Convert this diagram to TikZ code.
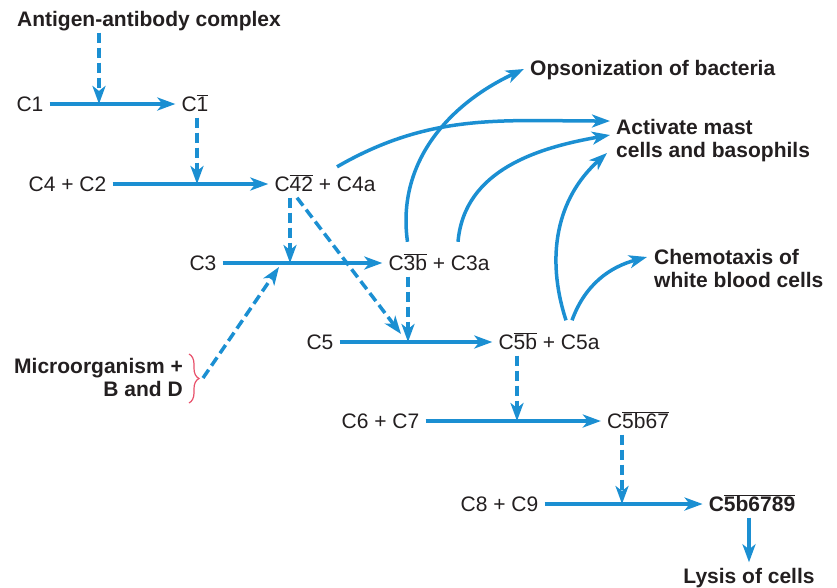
\documentclass[tikz,border=0pt]{standalone}
\usepackage{fontspec}
\setmainfont{Liberation Sans}
\usetikzlibrary{arrows.meta,decorations.pathreplacing}
\definecolor{cblue}{HTML}{1b8fd2}
\definecolor{bracered}{HTML}{e8506a}
\definecolor{ink}{HTML}{231f20}
\newcommand{\ovr}[1]{$\overline{\hbox{#1}}$}

\begin{document}
\begin{tikzpicture}[x=1pt,y=-1pt,
  cpd/.style={inner xsep=6pt, inner ysep=6pt, text height=15pt, text depth=0pt,
              font=\fontsize{21}{23}\selectfont, text=ink},
  bcpd/.style={cpd, font=\fontsize{21}{23}\selectfont\bfseries},
  lbl/.style={inner sep=0pt, align=left, font=\fontsize{21}{23}\selectfont\bfseries, text=ink},
  arr/.style={-{Stealth[length=18pt,width=13pt,inset=5pt]}, line width=3.5pt, color=cblue},
  darr/.style={arr, dash pattern=on 10pt off 5pt},
]
  \useasboundingbox (0,0) rectangle (837,587);
  % cascade
  \node[bcpd](ag) at (149,19) {Antigen-antibody complex};
  \node[cpd](c1) at (30,104) {C1}; \node[cpd](c1b) at (195,104) {C\ovr{1}};
  \node[cpd](c4c2) at (67.5,184) {C4 + C2}; \node[cpd](c42) at (325,184) {C\ovr{42} + C4a};
  \node[cpd](c3) at (203,263) {C3}; \node[cpd](c3b) at (439,263) {C\ovr{3b} + C3a};
  \node[cpd](c5) at (320,342) {C5}; \node[cpd](c5b) at (549,342) {C\ovr{5b} + C5a};
  \node[cpd](c6c7) at (380.5,421) {C6 + C7}; \node[cpd](c5b67) at (638,421) {C\ovr{5b67}};
  \node[cpd](c8c9) at (499.5,504) {C8 + C9}; \node[bcpd](mac) at (752,504) {C\ovr{5b6789}};
  \node[bcpd](lys) at (749,576) {Lysis of cells};
  \node[lbl,align=right,anchor=base east](mo) at (183,396.5) {Microorganism +\\B and D};
  % outcomes
  \node[lbl,anchor=base west](ops) at (530,75.5) {Opsonization of bacteria};
  \node[lbl,anchor=base west](act) at (616,157.5) {Activate mast\\cells and basophils};
  \node[lbl,anchor=base west](chem) at (654,287.5) {Chemotaxis of\\white blood cells};
  % join points
  \coordinate (j1) at (99,104); \coordinate (j2) at (197,184);
  \coordinate (j3) at (290,263); \coordinate (j4) at (401,334);
  \coordinate (j5) at (408,342); \coordinate (j6) at (517,421);
  \coordinate (j7) at (622,504); \coordinate (j8) at (279,267);
  \coordinate (bt) at (203,378);
  \draw[arr](c1)--(c1b); \draw[arr](c4c2)--(c42); \draw[arr](c3)--(c3b);
  \draw[arr](c5)--(c5b); \draw[arr](c6c7)--(c5b67); \draw[arr](c8c9)--(mac);
  \draw[arr](lys |- mac.south)--(lys.north);
  \draw[darr](ag.south -| j1)--(j1); \draw[darr](c1b.south -| j2)--(j2);
  \draw[darr](c42.south -| j3)--(j3); \draw[darr]([xshift=-28pt]c42.south)--(j4);
  \draw[darr](c3b.south -| j5)--(j5); \draw[darr](c5b.south -| j6)--(j6);
  \draw[darr](c5b67.south -| j7)--(j7); \draw[darr](bt)--(j8);
  % brace
  \draw[bracered,line width=1.2pt,decorate,decoration={brace,amplitude=10pt}](189,354)--(189,403);
  % curved products
  \draw[arr]([xshift=12pt,yshift=3.5pt]c42.north) to[out=30,in=180] ([xshift=-6pt,yshift=36.5pt]act.base west);
  \draw[arr]([xshift=-31.5pt,yshift=7.5pt]c3b.north) to[out=98,in=205] ([xshift=-6pt,yshift=6.5pt]ops.base west);
  \draw[arr]([xshift=19pt,yshift=7.5pt]c3b.north) to[out=85,in=190] ([xshift=-6pt,yshift=22.5pt]act.base west);
  \draw[arr]([xshift=17pt,yshift=8pt]c5b.north) to[out=108,in=222] ([xshift=-9pt,yshift=4.5pt]act.base west);
  \draw[arr]([xshift=23pt,yshift=8pt]c5b.north) to[out=70,in=195] ([xshift=-7pt,yshift=30.5pt]chem.base west);
\end{tikzpicture}
\end{document}
